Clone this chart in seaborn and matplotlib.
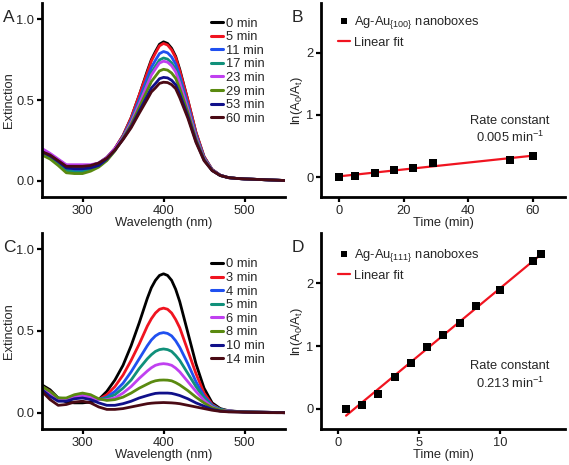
import numpy as np
import pandas as pd
import matplotlib
matplotlib.use('Agg')
import matplotlib.pyplot as plt
import seaborn as sns

sns.set_style('ticks')
plt.rcParams.update({
    "font.family": ["Liberation Sans", "DejaVu Sans"],
    "font.size": 9.3,
    "mathtext.fontset": "custom",
    "mathtext.rm": "Liberation Sans",
    "mathtext.it": "Liberation Sans",
})

# wavelengths of the spectra (nm)
wl = [250, 260, 270, 280, 290, 300, 310, 320, 330, 340, 350, 360, 370, 380, 385, 390, 395, 400,
      405, 410, 415, 420, 430, 440, 450, 460, 470, 480, 490, 500, 510, 520, 530, 540, 550]

# panel A: Ag-Au{100} nanoboxes
labels_a = ['0 min', '5 min', '11 min', '17 min', '23 min', '29 min', '53 min', '60 min']
spec_a = [
    [0.19, 0.165, 0.13, 0.095, 0.09, 0.09, 0.095, 0.11, 0.145, 0.20, 0.28, 0.39, 0.53, 0.68, 0.75, 0.80, 0.845, 0.86, 0.85, 0.82, 0.77, 0.69, 0.50, 0.30, 0.15, 0.07, 0.035, 0.02, 0.015, 0.012, 0.01, 0.008, 0.006, 0.004, 0.002],
    [0.19, 0.16, 0.12, 0.08, 0.07, 0.07, 0.08, 0.10, 0.14, 0.20, 0.28, 0.39, 0.53, 0.67, 0.742, 0.79, 0.835, 0.85, 0.84, 0.81, 0.762, 0.68, 0.50, 0.30, 0.15, 0.07, 0.035, 0.02, 0.015, 0.012, 0.01, 0.008, 0.006, 0.004, 0.002],
    [0.18, 0.155, 0.115, 0.075, 0.065, 0.065, 0.075, 0.095, 0.135, 0.195, 0.274, 0.375, 0.503, 0.638, 0.702, 0.746, 0.787, 0.80, 0.792, 0.766, 0.722, 0.648, 0.473, 0.285, 0.144, 0.068, 0.034, 0.02, 0.015, 0.012, 0.01, 0.008, 0.006, 0.004, 0.002],
    [0.17, 0.145, 0.105, 0.065, 0.055, 0.055, 0.07, 0.09, 0.13, 0.19, 0.27, 0.365, 0.485, 0.61, 0.67, 0.71, 0.748, 0.76, 0.753, 0.73, 0.69, 0.62, 0.455, 0.275, 0.14, 0.067, 0.034, 0.02, 0.015, 0.012, 0.01, 0.008, 0.006, 0.004, 0.002],
    [0.20, 0.17, 0.135, 0.10, 0.10, 0.10, 0.10, 0.11, 0.145, 0.20, 0.268, 0.36, 0.476, 0.596, 0.654, 0.692, 0.729, 0.74, 0.734, 0.712, 0.674, 0.606, 0.446, 0.27, 0.138, 0.067, 0.034, 0.02, 0.015, 0.012, 0.01, 0.008, 0.006, 0.004, 0.002],
    [0.16, 0.135, 0.095, 0.05, 0.045, 0.045, 0.06, 0.085, 0.125, 0.185, 0.263, 0.348, 0.454, 0.561, 0.614, 0.647, 0.68, 0.69, 0.685, 0.667, 0.634, 0.571, 0.424, 0.258, 0.133, 0.065, 0.033, 0.02, 0.015, 0.012, 0.01, 0.008, 0.006, 0.004, 0.002],
    [0.18, 0.155, 0.12, 0.08, 0.075, 0.075, 0.08, 0.095, 0.135, 0.19, 0.258, 0.335, 0.431, 0.526, 0.574, 0.602, 0.632, 0.64, 0.637, 0.622, 0.594, 0.536, 0.401, 0.245, 0.128, 0.064, 0.033, 0.02, 0.015, 0.012, 0.01, 0.008, 0.006, 0.004, 0.002],
    [0.18, 0.16, 0.125, 0.09, 0.09, 0.09, 0.095, 0.11, 0.14, 0.19, 0.255, 0.328, 0.418, 0.505, 0.55, 0.575, 0.603, 0.61, 0.608, 0.595, 0.57, 0.515, 0.388, 0.238, 0.125, 0.063, 0.033, 0.02, 0.015, 0.012, 0.01, 0.008, 0.006, 0.004, 0.002],
]

# panel C: Ag-Au{111} nanoboxes
labels_c = ['0 min', '3 min', '4 min', '5 min', '6 min', '8 min', '10 min', '14 min']
spec_c = [
    [0.17, 0.14, 0.09, 0.065, 0.06, 0.06, 0.065, 0.08, 0.13, 0.20, 0.29, 0.41, 0.55, 0.70, 0.765, 0.81, 0.84, 0.85, 0.84, 0.81, 0.755, 0.68, 0.49, 0.30, 0.15, 0.06, 0.025, 0.012, 0.008, 0.005, 0.004, 0.003, 0.002, 0.001, 0.0],
    [0.16, 0.13, 0.085, 0.075, 0.09, 0.10, 0.09, 0.08, 0.11, 0.16, 0.23, 0.32, 0.42, 0.53, 0.575, 0.61, 0.633, 0.64, 0.633, 0.61, 0.57, 0.52, 0.38, 0.24, 0.12, 0.05, 0.02, 0.01, 0.007, 0.005, 0.004, 0.003, 0.002, 0.001, 0.0],
    [0.15, 0.12, 0.085, 0.08, 0.095, 0.105, 0.095, 0.08, 0.095, 0.13, 0.18, 0.25, 0.33, 0.41, 0.445, 0.47, 0.485, 0.49, 0.485, 0.47, 0.44, 0.40, 0.30, 0.19, 0.10, 0.045, 0.02, 0.01, 0.007, 0.005, 0.004, 0.003, 0.002, 0.001, 0.0],
    [0.16, 0.125, 0.09, 0.085, 0.10, 0.11, 0.10, 0.08, 0.09, 0.11, 0.15, 0.20, 0.27, 0.33, 0.355, 0.375, 0.386, 0.39, 0.386, 0.375, 0.35, 0.32, 0.24, 0.16, 0.09, 0.04, 0.02, 0.01, 0.007, 0.005, 0.004, 0.003, 0.002, 0.001, 0.0],
    [0.15, 0.12, 0.085, 0.08, 0.095, 0.105, 0.095, 0.08, 0.08, 0.09, 0.12, 0.16, 0.21, 0.255, 0.275, 0.29, 0.297, 0.30, 0.297, 0.29, 0.273, 0.25, 0.19, 0.13, 0.075, 0.035, 0.015, 0.01, 0.007, 0.005, 0.004, 0.003, 0.002, 0.001, 0.0],
    [0.16, 0.13, 0.09, 0.09, 0.11, 0.12, 0.11, 0.085, 0.075, 0.08, 0.095, 0.12, 0.15, 0.175, 0.187, 0.195, 0.199, 0.20, 0.199, 0.195, 0.184, 0.17, 0.135, 0.095, 0.06, 0.03, 0.015, 0.008, 0.006, 0.005, 0.004, 0.003, 0.002, 0.001, 0.0],
    [0.14, 0.10, 0.07, 0.07, 0.085, 0.09, 0.08, 0.06, 0.045, 0.045, 0.055, 0.07, 0.09, 0.105, 0.112, 0.118, 0.12, 0.12, 0.12, 0.118, 0.112, 0.105, 0.085, 0.06, 0.04, 0.02, 0.01, 0.006, 0.005, 0.004, 0.003, 0.002, 0.001, 0.0, 0.0],
    [0.13, 0.08, 0.045, 0.05, 0.065, 0.07, 0.06, 0.035, 0.02, 0.02, 0.025, 0.035, 0.045, 0.055, 0.058, 0.06, 0.061, 0.062, 0.061, 0.06, 0.058, 0.055, 0.045, 0.035, 0.025, 0.015, 0.008, 0.005, 0.004, 0.003, 0.002, 0.001, 0.0, 0.0, 0.0],
]

colors = ['#000000', '#f01420', '#2050f0', '#10907a', '#c040f0', '#5a8a10', '#10108a', '#4a0a14']

# panel B / D kinetics
time_b = [0, 5, 11, 17, 23, 29, 53, 60]
lnA_b = [0.0, 0.02, 0.065, 0.12, 0.15, 0.22, 0.28, 0.34]
time_d = [0.5, 1.5, 2.5, 3.5, 4.5, 5.5, 6.5, 7.5, 8.5, 10, 12, 12.5]
lnA_d = [0.0, 0.07, 0.245, 0.51, 0.73, 0.99, 1.18, 1.365, 1.63, 1.89, 2.36, 2.47]

fig = plt.figure(figsize=(5.69, 4.65), dpi=100)
axA = fig.add_axes([0.0738, 0.5763, 0.4272, 0.4172])
axB = fig.add_axes([0.564, 0.5763, 0.429, 0.4172])
axC = fig.add_axes([0.0738, 0.0774, 0.4272, 0.4216])
axD = fig.add_axes([0.564, 0.0774, 0.429, 0.4216])


def spectra(ax, labels, spec, letter, leg_y):
    df = pd.DataFrame([(lab, w, v) for lab, s in zip(labels, spec) for w, v in zip(wl, s)],
                      columns=['label', 'wl', 'ext'])
    sns.lineplot(data=df, x='wl', y='ext', hue='label', hue_order=labels,
                 palette=colors, lw=2.0, ax=ax, legend=True)
    h, l = ax.get_legend_handles_labels()
    for hh in h:
        hh.set_linewidth(2.2)
    ax.legend(h, l, loc='upper left', bbox_to_anchor=(0.695, leg_y), frameon=False,
              fontsize=9.3, handlelength=0.95, handletextpad=0.25, labelspacing=0.12,
              borderaxespad=0, borderpad=0)
    ax.set_xlim(250, 550)
    ax.set_ylim(-0.1, 1.1)
    ax.set_xticks([300, 400, 500])
    ax.set_yticks([0.0, 0.5, 1.0])
    ax.set_xlabel('Wavelength (nm)', labelpad=0)
    ax.set_ylabel('Extinction', labelpad=1)
    fig.text(ax.get_position().x0 - 0.069, ax.get_position().y1 - 0.040, letter, fontsize=12.5)


def kinetics(ax, t, y, sub, rate, letter, leg_y, txt_y):
    sns.scatterplot(x=t, y=y, marker='s', s=34, color='black', edgecolor='black', lw=0,
                    ax=ax, label=r'Ag-Au$_{\{' + sub + r'\}}$ nanoboxes', zorder=3)
    sns.regplot(x=np.array(t), y=np.array(y), scatter=False, ci=None, truncate=True,
                color='#f01420', line_kws=dict(lw=1.6), ax=ax, label='Linear fit')
    ax.legend(loc='upper left', bbox_to_anchor=(0.07, leg_y), frameon=False, fontsize=9.3,
              handlelength=0.9, handletextpad=0.3, labelspacing=0.45, borderaxespad=0,
              borderpad=0, markerscale=0.8)
    ax.set_ylim(-0.32, 2.8)
    ax.set_yticks([0, 1, 2])
    ax.set_xlabel('Time (min)', labelpad=0)
    ax.set_ylabel(r'ln(A$_0$/A$_t$)', labelpad=1)
    ax.text(0.775, txt_y, 'Rate constant', transform=ax.transAxes, ha='center', va='center')
    ax.text(0.775, txt_y - 0.085, rate + r' min$^{-1}$', transform=ax.transAxes,
            ha='center', va='center')
    fig.text(ax.get_position().x0 - 0.052, ax.get_position().y1 - 0.040, letter, fontsize=12.5)


spectra(axA, labels_a, spec_a, 'A', 0.925)
spectra(axC, labels_c, spec_c, 'C', 0.87)
kinetics(axB, time_b, lnA_b, '100', '0.005', 'B', 0.945, 0.39)
axB.set_xlim(-5.6, 70)
axB.set_xticks([0, 20, 40, 60])
kinetics(axD, time_d, lnA_d, '111', '0.213', 'D', 0.93, 0.32)
axD.set_xlim(-1.05, 14)
axD.set_xticks([0, 5, 10])

for ax in [axA, axB, axC, axD]:
    sns.despine(ax=ax)
    for s in ['left', 'bottom']:
        ax.spines[s].set_linewidth(2.0)
        ax.spines[s].set_color('black')
    ax.tick_params(direction='out', length=3.5, width=1.6, color='black', labelsize=9.3, pad=2)

fig.savefig('out.png', dpi=100)
